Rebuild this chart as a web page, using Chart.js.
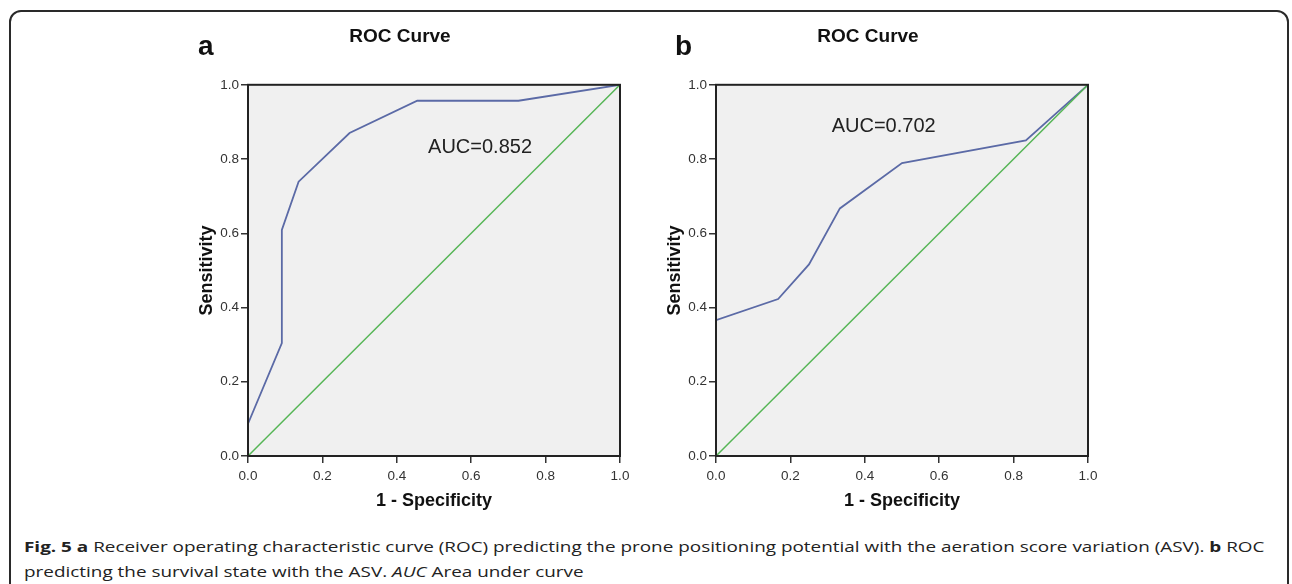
<!DOCTYPE html>
<html>
<head>
<meta charset="utf-8">
<script src="https://cdn.jsdelivr.net/npm/chart.js@4/dist/chart.umd.min.js"></script>
<style>
  body { margin: 0; background: #fff; width: 1292px; height: 584px; overflow: hidden; position: relative; font-family: "Liberation Sans", Arial, sans-serif; }
  .frame { position: absolute; left: 9px; top: 10px; width: 1276px; height: 640px; border: 2px solid #2a2a2a; border-radius: 12px; }
  .panel { position: absolute; top: 0; }
  .tag { position: absolute; font: bold 28px "Liberation Sans", Arial, sans-serif; line-height: 28px; color: #111; }
  .caption { position: absolute; left: 24px; top: 534px; font-family: "Open Sans", sans-serif; font-size: 15px; line-height: 25px; color: #222; transform: scaleX(1.26); transform-origin: left top; white-space: nowrap; }
  .caption b { font-weight: 700; }
</style>
</head>
<body>
<div class="frame"></div>
<div class="panel" style="left:140px"><canvas id="rocA" width="520" height="530"></canvas></div>
<div class="panel" style="left:608px"><canvas id="rocB" width="520" height="530"></canvas></div>
<div class="tag" style="left:198px; top:32px">a</div>
<div class="tag" style="left:675px; top:32px">b</div>
<div class="caption">
  <div><b>Fig. 5 a</b> Receiver operating characteristic curve (ROC) predicting the prone positioning potential with the aeration score variation (ASV). <b>b</b> ROC</div>
  <div>predicting the survival state with the ASV. <i>AUC</i> Area under curve</div>
</div>
<script>
// axis ticks
const tickValues = [0, 0.2, 0.4, 0.6, 0.8, 1.0];

// panel a: prone positioning potential
const fprA = [0, 0, 0.091, 0.091, 0.136, 0.273, 0.455, 0.727, 1];
const tprA = [0, 0.087, 0.304, 0.609, 0.739, 0.870, 0.957, 0.957, 1];
const aucA = 'AUC=0.852';
const aucPosA = [0.484, 0.83];

// panel b: survival state
const fprB = [0, 0, 0.167, 0.25, 0.333, 0.5, 0.833, 1];
const tprB = [0, 0.366, 0.423, 0.516, 0.667, 0.789, 0.85, 1];
const aucB = 'AUC=0.702';
const aucPosB = [0.311, 0.888];

// reference diagonal
const refX = [0, 1];
const refY = [0, 1];

const plotBox = {
    id: 'plotBox',
    beforeDraw(chart) {
        const { ctx, chartArea: a } = chart;
        ctx.save();
        ctx.fillStyle = '#f0f0f0';
        ctx.fillRect(a.left, a.top, a.right - a.left, a.bottom - a.top);
        ctx.restore();
    },
    afterDatasetsDraw(chart, args, opts) {
        const { ctx, chartArea: a, scales } = chart;
        ctx.save();
        ctx.strokeStyle = '#222';
        ctx.lineWidth = 2;
        ctx.strokeRect(a.left, a.top, a.right - a.left, a.bottom - a.top);
        ctx.fillStyle = '#222';
        ctx.font = '20px "Liberation Sans", Arial, sans-serif';
        ctx.textBaseline = 'middle';
        ctx.fillText(opts.text, scales.x.getPixelForValue(opts.pos[0]), scales.y.getPixelForValue(opts.pos[1]));
        ctx.restore();
    }
};

function toPoints(xs, ys) {
    return xs.map((x, i) => ({ x: x, y: ys[i] }));
}

function axis(titleText, titlePad, tickPad) {
    return {
        type: 'linear',
        min: 0,
        max: 1,
        afterBuildTicks: s => { s.ticks = tickValues.map(v => ({ value: v })); },
        ticks: {
            callback: v => v.toFixed(1),
            color: '#333',
            font: { size: 13.5, family: '"Liberation Sans", Arial, sans-serif' },
            padding: tickPad
        },
        grid: { drawOnChartArea: false, tickLength: 7, color: '#333', lineWidth: 1.5 },
        border: { color: '#222', width: 2 },
        title: {
            display: true,
            text: titleText,
            color: '#111',
            font: { size: 18, weight: 'bold', family: '"Liberation Sans", Arial, sans-serif' },
            padding: titlePad
        }
    };
}

function makeRoc(id, fpr, tpr, aucText, aucPos) {
    const xScale = axis('1 - Specificity', { top: 0, bottom: 18 }, 5);
    xScale.afterFit = s => { s.height = 74; };
    const yScale = axis('Sensitivity', { top: 16, bottom: 0 }, 2);
    yScale.afterFit = s => { s.width = 68; };

    new Chart(document.getElementById(id), {
        type: 'scatter',
        data: {
            datasets: [{
                data: toPoints(refX, refY),
                showLine: true,
                borderColor: '#55b555',
                borderWidth: 1.5,
                pointRadius: 0
            }, {
                data: toPoints(fpr, tpr),
                showLine: true,
                borderColor: '#5b6aa6',
                borderWidth: 1.8,
                pointRadius: 0
            }]
        },
        options: {
            responsive: false,
            animation: false,
            layout: { padding: { left: 40, right: 40, top: 0, bottom: 0 } },
            plugins: {
                legend: { display: false },
                tooltip: { enabled: false },
                title: {
                    display: true,
                    text: 'ROC Curve',
                    color: '#111',
                    font: { size: 19, weight: 'bold', family: '"Liberation Sans", Arial, sans-serif' },
                    padding: { top: 25, bottom: 37 }
                },
                plotBox: { text: aucText, pos: aucPos }
            },
            scales: { x: xScale, y: yScale }
        },
        plugins: [plotBox]
    });
}

makeRoc('rocA', fprA, tprA, aucA, aucPosA);
makeRoc('rocB', fprB, tprB, aucB, aucPosB);
</script>
</body>
</html>
